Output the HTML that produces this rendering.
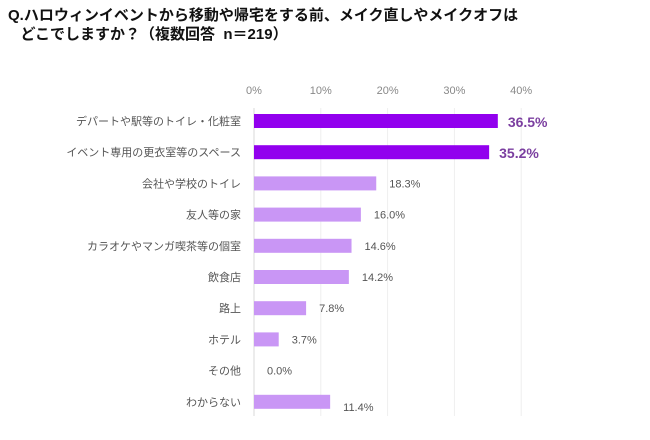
<!DOCTYPE html>
<html><head><meta charset="utf-8"><style>
body{margin:0;background:#fff;width:650px;height:440px;overflow:hidden;font-family:"Liberation Sans","Noto Sans CJK JP",sans-serif}
.t{position:absolute;left:8px;top:6px;font-size:15px;font-weight:bold;color:#111;line-height:19px;font-family:"Liberation Sans","Noto Sans CJK JP",sans-serif}
</style></head><body>
<div class="t">Q.ハロウィンイベントから移動や帰宅をする前、メイク直しやメイクオフは<br>&nbsp;&nbsp;&nbsp;どこでしますか？（複数回答&nbsp; n＝219）</div>
<svg id="c" width="650" height="440" style="position:absolute;left:0;top:0"></svg>
<script>
const categories=["デパートや駅等のトイレ・化粧室","イベント専用の更衣室等のスペース","会社や学校のトイレ","友人等の家","カラオケやマンガ喫茶等の個室","飲食店","路上","ホテル","その他","わからない"];
const values=[36.5,35.2,18.3,16.0,14.6,14.2,7.8,3.7,0.0,11.4];
const ticks=[0,10,20,30,40];
const highlight=[true,true,false,false,false,false,false,false,false,false];
const labelDy=[0,0,0,0,0,0,0,0,0,5];
const svg=document.getElementById('c');const NS='http://www.w3.org/2000/svg';
const x=v=>254+v*6.68;const y=i=>121+i*31.2;
function mk(t,a,txt){const e=document.createElementNS(NS,t);for(const k in a)e.setAttribute(k,a[k]);if(txt!=null)e.textContent=txt;svg.appendChild(e);return e;}
ticks.forEach(t=>{
 const g=mk('line',{x1:x(t),x2:x(t),y1:108,y2:416,stroke:t===0?'#d9d9d9':'#eeeeee','stroke-width':1});
 
 
 const l=mk('text',{x:x(t),y:94,'text-anchor':'middle','font-size':11,fill:'#888'},t+'%');
 
 
});
categories.forEach((c,i)=>{
 const cl=mk('text',{x:241,y:y(i)+4,'text-anchor':'end','font-size':11,fill:'#555'},c);
 
 
 const b=mk('rect',{x:x(0),y:y(i)-7,width:x(values[i])-x(0),height:14,fill:highlight[i]?'#9200ee':'#c996f5'});
 
 
 const vl=mk('text',{x:x(values[i])+(highlight[i]?10:13),y:y(i)+(highlight[i]?6:4)+labelDy[i],'font-size':highlight[i]?14:11,'font-weight':highlight[i]?'bold':'normal',fill:highlight[i]?'#7b3fa0':'#555'},values[i].toFixed(1)+'%');
 
 
});
</script>
</body></html>
